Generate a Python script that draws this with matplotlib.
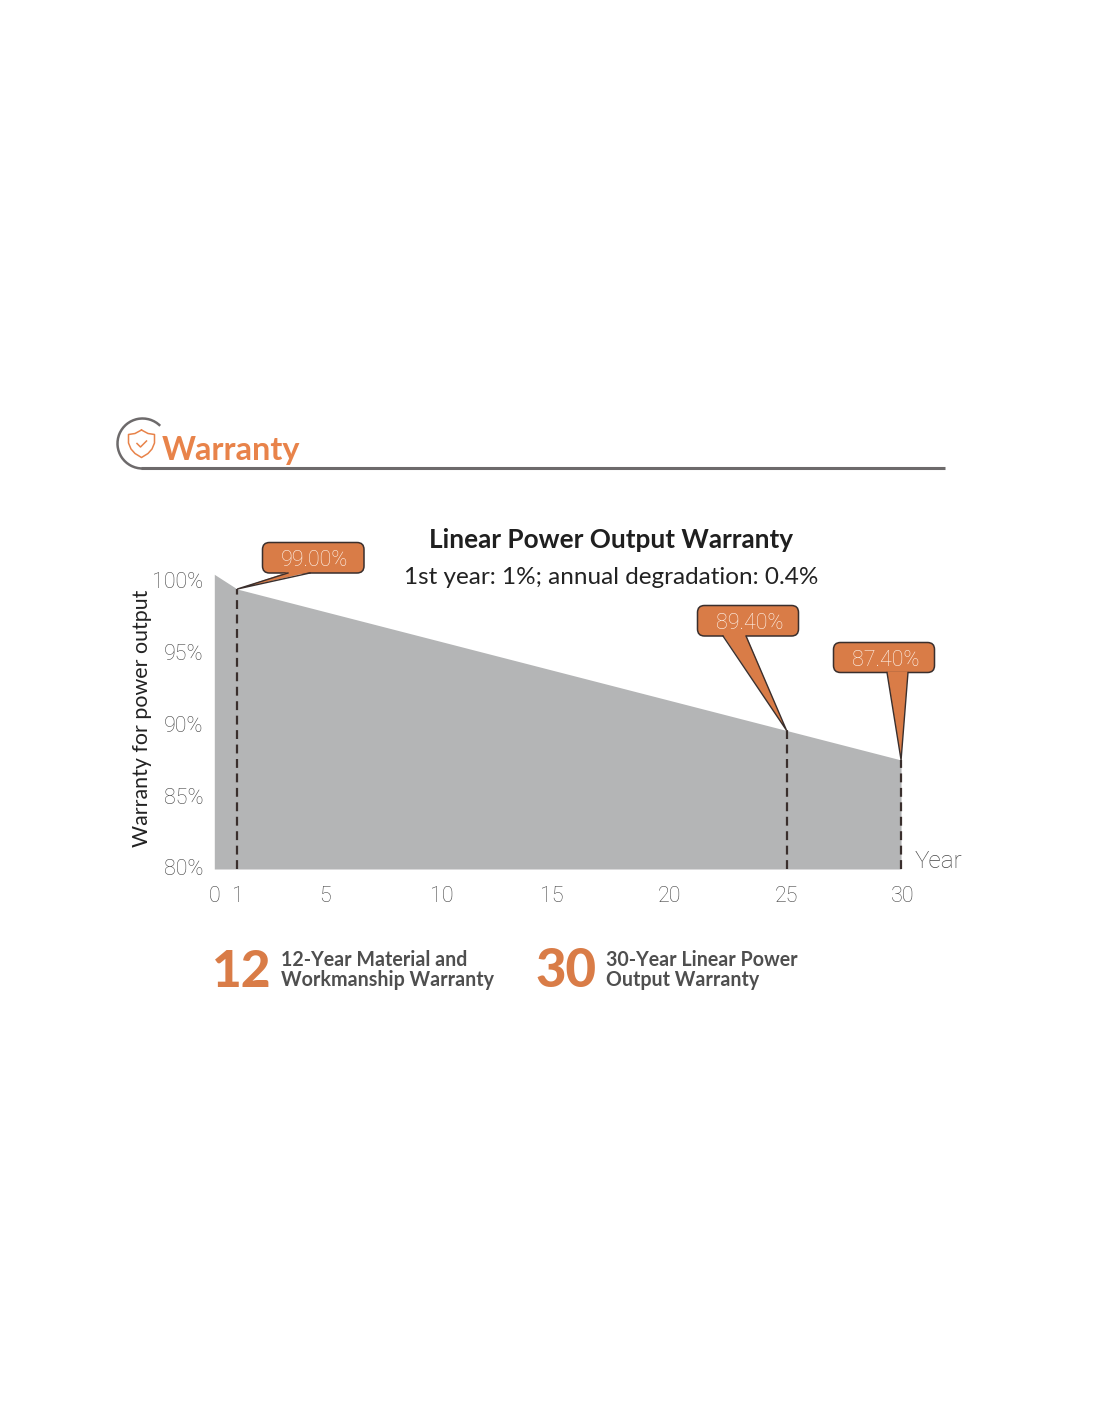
import matplotlib
matplotlib.use("Agg")
import matplotlib.pyplot as plt
from matplotlib.patches import Arc, FancyBboxPatch, Polygon

plt.rcParams['font.family'] = ['Lato', 'Noto Sans', 'DejaVu Sans']
LIGHT_FONT = ['Roboto', 'DejaVu Sans']

years = [0, 1, 25, 30]
output = [100.0, 99.0, 89.4, 87.4]
dashed_years = [1, 25, 30]
dashed_vals = [99.0, 89.4, 87.4]

x_labels = ['0', '1', '5', '10', '15', '20', '25', '30']
x_label_pos = [0.03, 1.03, 4.82, 9.93, 14.75, 19.9, 24.98, 30.08]
y_labels = ['80%', '85%', '90%', '95%', '100%']
y_label_pos = [80.15, 84.97, 89.87, 94.7, 99.6]

callout_text = ['99.00%', '89.40%', '87.40%']
title = 'Linear Power Output Warranty'
subtitle = '1st year: 1%; annual degradation: 0.4%'

W, H = 1100, 1422
ORANGE = '#d97c47'
HEAD = '#e8834a'
DARK = '#3a2f2d'
TXT = '#454545'


def fx(p):
    return p / W


def fy(p):
    return 1 - p / H


fig = plt.figure(figsize=(11, 14.22), dpi=100)

# main chart, placed on the pixel frame of the reference
ax = fig.add_axes([fx(214.3), fy(869), (902.9 - 214.3) / W, (869 - 574.3) / H])
ax.fill_between(years, output, 80, color='#b4b5b6', lw=0)
ax.vlines(dashed_years, 80, dashed_vals, color=DARK, lw=1.6, linestyles=(0, (4, 2.5)))
ax.set_xlim(0, 30)
ax.set_ylim(80, 100)
for s in ax.spines.values():
    s.set_visible(False)
ax.patch.set_alpha(0)
ax.set_xticks(x_label_pos, x_labels)
ax.set_yticks(y_label_pos, y_labels)
ax.tick_params(length=0, labelsize=15.5, labelcolor=TXT)
ax.tick_params(axis='y', pad=8)
ax.tick_params(axis='x', pad=12.5)
for lab in ax.get_xticklabels() + ax.get_yticklabels():
    lab.set_family(LIGHT_FONT)
    lab.set_fontweight('light')

# overlay in pixels for the header and the callouts
ov = fig.add_axes([0, 0, 1, 1])
ov.set_xlim(0, W)
ov.set_ylim(H, 0)
ov.axis('off')
ov.patch.set_alpha(0)


def to_px(x, y):
    d = ax.transData.transform((x, y))
    return d[0], H - d[1]


def callout(box, base, year, val, txt):
    x0, y0, x1, y1 = box
    ov.add_patch(FancyBboxPatch((x0 + 7, y0 + 7), x1 - x0 - 14, y1 - y0 - 14,
                                boxstyle='round,pad=7', fc=ORANGE, ec=DARK, lw=1.1))
    tip = to_px(year, val)
    ov.add_patch(Polygon([(base[0], y1 - 1), tip, (base[1], y1 - 1)], fc=ORANGE, ec='none'))
    ov.plot([base[0], tip[0], base[1]], [y1, tip[1], y1], color=DARK, lw=1.0, solid_joinstyle='miter')
    ov.text((x0 + x1) / 2 + 1.5, (y0 + y1) / 2 + 2.5, txt, color='#fff4ec', fontsize=15.5,
            family=LIGHT_FONT, fontweight='light', ha='center', va='center')


callout((262.5, 542.5, 364, 573), (288, 310), 1, 99.0, callout_text[0])
callout((697.5, 605.5, 798.5, 636), (723, 746), 25, 89.4, callout_text[1])
callout((833.5, 642.5, 934.5, 672.5), (887, 908), 30, 87.4, callout_text[2])

# header
ov.add_patch(Arc((142.5, 443.5), 50, 50, theta1=90, theta2=315, color='#6d6a6b', lw=1.8))
ov.plot([141, 945], [468, 468], color='#6d6a6b', lw=2.2, solid_capstyle='butt')
shield_x = [141.5, 148, 154.5, 154.5, 152, 148, 141.5, 135, 131, 128.5, 128.5, 135, 141.5]
shield_y = [430, 433.5, 434.5, 443, 449, 453.5, 457.5, 453.5, 449, 443, 434.5, 433.5, 430]
ov.plot(shield_x, shield_y, color=HEAD, lw=1.1)
ov.plot([137, 140.5, 146.5], [443.5, 447, 441], color=HEAD, lw=1.1)
ov.text(162, 460, 'Warranty', color=HEAD, fontsize=23.3, fontweight='bold', va='baseline')

# titles and axis names
ov.text(611, 540, title, color='#1f1f1f', fontsize=18.8, fontweight='bold', ha='center', va='center')
ov.text(611.5, 577, subtitle, color='#222222', fontsize=17.5, ha='center', va='center')
ov.text(142, 718.5, 'Warranty for power output', color='#222222', fontsize=15.4, rotation=90,
        ha='center', va='center')
ov.text(938.5, 861, 'Year', color=TXT, fontsize=17.5, family=LIGHT_FONT, fontweight='light',
        ha='center', va='center')

# bottom notes
ov.text(242, 987, '12', color=ORANGE, fontsize=37, fontweight='black', ha='center', va='baseline')
ov.text(566, 987, '30', color=ORANGE, fontsize=38, fontweight='black', ha='center', va='baseline')
for x, l1, l2 in [(281, '12-Year Material and', 'Workmanship Warranty'),
                  (606, '30-Year Linear Power', 'Output Warranty')]:
    ov.text(x, 959.5, l1, color='#4f4f4f', fontsize=14.15, fontweight='bold', va='center')
    ov.text(x, 979.5, l2, color='#4f4f4f', fontsize=14.15, fontweight='bold', va='center')

fig.savefig('out.png', dpi=100)
